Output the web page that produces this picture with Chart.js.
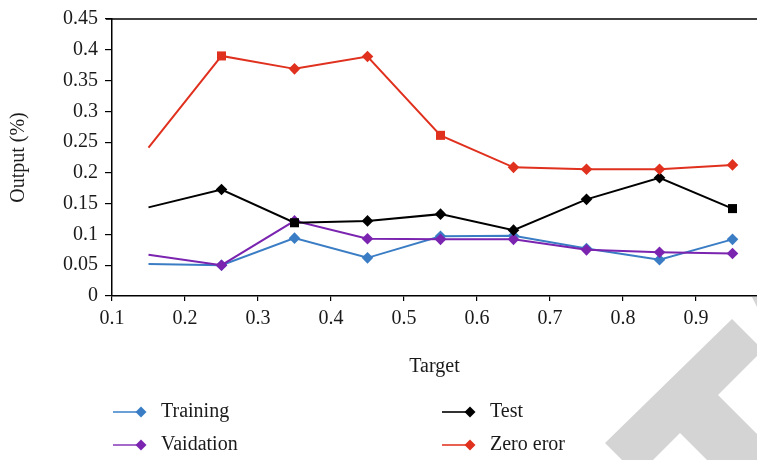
<!DOCTYPE html>
<html>
<head>
<meta charset="utf-8">
<script src="https://cdn.jsdelivr.net/npm/chart.js@4.4.0/dist/chart.umd.min.js"></script>
<style>
  body { margin: 0; background: #fff; }
  canvas { display: block; }
</style>
</head>
<body>
<canvas id="lineChart" width="757" height="460"></canvas>
<script>
// data
const targets = [0.15, 0.25, 0.35, 0.45, 0.55, 0.65, 0.75, 0.85, 0.95];
const training = [0.052, 0.050, 0.094, 0.062, 0.097, 0.098, 0.077, 0.059, 0.092];
const validation = [0.067, 0.050, 0.122, 0.093, 0.092, 0.092, 0.075, 0.071, 0.069];
const test = [0.144, 0.173, 0.119, 0.122, 0.133, 0.107, 0.157, 0.192, 0.142];
const zeroError = [0.241, 0.390, 0.369, 0.389, 0.261, 0.209, 0.206, 0.206, 0.213];
const seriesNames = ['Training', 'Vaidation', 'Test', 'Zero eror'];
const xTicks = [0.1, 0.2, 0.3, 0.4, 0.5, 0.6, 0.7, 0.8, 0.9];
const yTicks = [0, 0.05, 0.1, 0.15, 0.2, 0.25, 0.3, 0.35, 0.4, 0.45];

const FONT = '"Liberation Serif", "DejaVu Serif", serif';
const D = 'rectRot', S = 'rect';

function pts(values) {
    return values.map((v, i) => ({ x: targets[i], y: v }));
}

function makeSet(label, values, color, legendColor, shapes, order) {
    return {
        label: label,
        data: pts(values),
        borderColor: color,
        backgroundColor: color,
        legendColor: legendColor,
        borderWidth: 2,
        pointStyle: shapes,
        pointRadius: shapes.map((s, i) => i === 0 ? 0 : (s === S ? 6.4 : 5.8)),
        pointBorderWidth: 0,
        tension: 0,
        order: order
    };
}

// draws the 2x2 legend under the axis title
const legendPlugin = {
    id: 'gridLegend',
    afterDraw(chart) {
        const ctx = chart.ctx;
        const cols = [113, 442];
        const rows = [412, 445];
        ctx.save();
        chart.data.datasets.forEach((ds, i) => {
            const x = cols[Math.floor(i / 2)];
            const y = rows[i % 2];
            ctx.strokeStyle = ds.legendColor;
            ctx.lineWidth = 2;
            ctx.beginPath();
            ctx.moveTo(x, y);
            ctx.lineTo(x + 28, y);
            ctx.stroke();
            ctx.fillStyle = ds.borderColor;
            Chart.helpers.drawPoint(ctx, { pointStyle: 'rectRot', radius: 5.5, borderWidth: 0 }, x + 28, y);
            ctx.fillStyle = '#1a1a1a';
            ctx.font = '20px ' + FONT;
            ctx.textBaseline = 'middle';
            ctx.fillText(ds.label, x + 48, y);
        });
        ctx.restore();
    }
};

// top frame line + grey watermark in the corner
const framePlugin = {
    id: 'frame',
    afterDraw(chart) {
        const ctx = chart.ctx;
        const a = chart.chartArea;
        ctx.save();
        ctx.strokeStyle = '#000';
        ctx.lineWidth = 1.5;
        ctx.beginPath();
        ctx.moveTo(a.left - 6, a.top);
        ctx.lineTo(a.right, a.top);
        ctx.stroke();

        ctx.fillStyle = '#d4d4d4';
        ctx.beginPath();
        ctx.moveTo(605, 443);
        ctx.lineTo(732, 319);
        ctx.lineTo(757, 344);
        ctx.lineTo(757, 356);
        ctx.lineTo(718, 395);
        ctx.lineTo(757, 434);
        ctx.lineTo(757, 460);
        ctx.lineTo(707, 460);
        ctx.lineTo(680, 433);
        ctx.lineTo(653, 460);
        ctx.lineTo(622, 460);
        ctx.closePath();
        ctx.fill();
        ctx.beginPath();
        ctx.moveTo(752, 297);
        ctx.lineTo(757, 297);
        ctx.lineTo(757, 307);
        ctx.closePath();
        ctx.fill();
        ctx.restore();
    }
};

const ctx = document.getElementById('lineChart').getContext('2d');
const lineChart = new Chart(ctx, {
    type: 'line',
    data: {
        datasets: [
            makeSet(seriesNames[0], training, '#3a7dc4', '#6a9fd8', [D, D, D, D, D, D, D, D, D], 4),
            makeSet(seriesNames[1], validation, '#7a24b0', '#a56ac9', [D, D, D, D, D, D, D, D, D], 3),
            makeSet(seriesNames[2], test, '#000000', '#333333', [D, D, S, D, D, D, D, D, S], 2),
            makeSet(seriesNames[3], zeroError, '#e0301e', '#e8604f', [D, S, D, D, S, D, D, D, D], 1)
        ]
    },
    options: {
        responsive: false,
        animation: false,
        layout: { autoPadding: false, padding: { top: 15, left: 0, right: 0, bottom: 0 } },
        plugins: {
            legend: { display: false },
            tooltip: { enabled: false }
        },
        scales: {
            x: {
                type: 'linear',
                min: 0.1,
                max: 0.1 + (757 - 112) / 730,
                afterBuildTicks: scale => { scale.ticks = xTicks.map(v => ({ value: v })); },
                afterFit: scale => { scale.height = 164; },
                grid: { drawOnChartArea: false, drawTicks: true, tickLength: 5, color: '#000', lineWidth: 1.2 },
                border: { display: true, color: '#000', width: 1.5 },
                ticks: {
                    padding: 6,
                    color: '#1a1a1a',
                    font: { family: FONT, size: 20 },
                    maxRotation: 0,
                    callback: v => v.toFixed(1)
                },
                title: {
                    display: true,
                    text: 'Target',
                    color: '#1a1a1a',
                    font: { family: FONT, size: 20 },
                    padding: { top: 0, bottom: 81 }
                }
            },
            y: {
                min: 0,
                max: 0.45,
                afterBuildTicks: scale => { scale.ticks = yTicks.map(v => ({ value: v })); },
                afterFit: scale => { scale.width = 112; },
                grid: { drawOnChartArea: false, drawTicks: true, tickLength: 7, color: '#000', lineWidth: 1.2 },
                border: { display: true, color: '#000', width: 1.5 },
                ticks: {
                    padding: 7,
                    color: '#1a1a1a',
                    font: { family: FONT, size: 20 },
                    callback: v => String(+v.toFixed(2))
                },
                title: {
                    display: true,
                    text: 'Output (%)',
                    color: '#1a1a1a',
                    font: { family: FONT, size: 20 },
                    padding: { top: 7, bottom: 0 }
                }
            }
        }
    },
    plugins: [framePlugin, legendPlugin]
});
</script>
</body>
</html>
